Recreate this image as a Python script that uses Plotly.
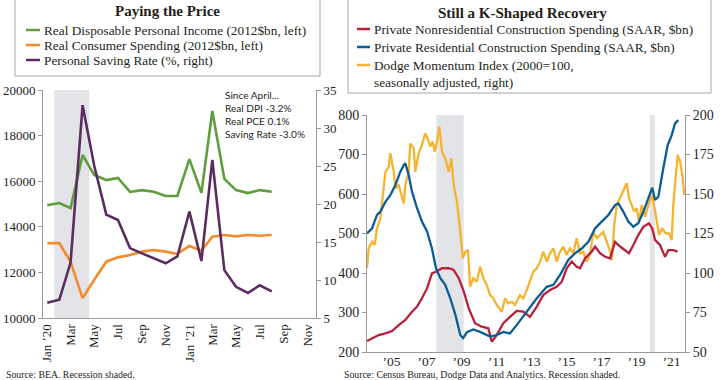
import plotly.graph_objects as go
import pandas as pd

W, H = 720, 380

# ---------------- Left panel data (monthly) ----------------
left_months = ["2020-01", "2020-02", "2020-03", "2020-04", "2020-05", "2020-06", "2020-07",
               "2020-08", "2020-09", "2020-10", "2020-11", "2020-12", "2021-01", "2021-02",
               "2021-03", "2021-04", "2021-05", "2021-06", "2021-07", "2021-08"]
real_dpi = [14950, 15040, 14820, 17150, 16270, 16050, 16140, 15530, 15610, 15540,
            15350, 15350, 16970, 15490, 19080, 16100, 15610, 15480, 15610, 15540]
real_pce = [13280, 13290, 12460, 10870, 11680, 12470, 12660, 12760, 12910, 12980,
            12910, 12810, 13160, 12950, 13570, 13640, 13580, 13640, 13610, 13640]
saving_rate = [7.0, 7.4, 12.3, 33.0, 25.0, 18.6, 17.9, 14.2, 13.5, 12.9,
               12.2, 13.1, 19.0, 12.5, 25.8, 11.3, 9.1, 8.3, 9.3, 8.5]
left_tickvals = ["2020-01-01", "2020-03-01", "2020-05-01", "2020-07-01", "2020-09-01", "2020-11-01",
                 "2021-01-01", "2021-03-01", "2021-05-01", "2021-07-01", "2021-09-01", "2021-11-01"]
left_ticktext = ["Jan \u201920", "Mar", "May", "Jul", "Sep", "Nov",
                 "Jan \u201921", "Mar", "May", "Jul", "Sep", "Nov"]
left_recession = [("2020-01-19", "2020-04-18")]
left_names = ["Real Disposable Personal Income (2012$bn, left)",
              "Real Consumer Spending (2012$bn, left)",
              "Personal Saving Rate (%, right)"]
left_note = ["Since April...", "Real DPI -3.2%", "Real PCE 0.1%", "Saving Rate -3.0%"]

# ---------------- Right panel data (decimal years) ----------------
resid_t = [2004.00, 2004.29, 2004.57, 2004.76, 2005.05, 2005.33, 2005.62, 2005.90, 2006.10, 2006.19,
           2006.38, 2006.57, 2006.86, 2007.14, 2007.43, 2007.71, 2007.94, 2008.19, 2008.47, 2008.76,
           2009.05, 2009.33, 2009.49, 2009.71, 2010.07, 2010.46, 2011.03, 2011.41, 2011.79, 2012.17,
           2012.55, 2013.13, 2013.70, 2014.27, 2014.65, 2015.03, 2015.50, 2015.89, 2016.27, 2016.65,
           2017.03, 2017.41, 2017.79, 2018.17, 2018.36, 2018.65, 2018.93, 2019.22, 2019.50, 2019.79,
           2020.07, 2020.30, 2020.46, 2020.65, 2020.93, 2021.18, 2021.41, 2021.60, 2021.79]
resid_v = [500, 513, 547, 555, 580, 597, 623, 656, 673, 678,
           648, 606, 564, 530, 505, 462, 412, 387, 370, 336,
           294, 243, 235, 250, 257, 251, 239, 243, 251, 247,
           268, 302, 336, 365, 370, 395, 433, 450, 462, 479,
           513, 530, 547, 572, 576, 555, 530, 517, 526, 555,
           589, 616, 585, 593, 665, 724, 749, 779, 787]

nonres_t = [2004.00, 2004.29, 2004.67, 2005.05, 2005.43, 2005.81, 2006.19, 2006.57, 2006.86, 2007.14,
            2007.43, 2007.71, 2007.94, 2008.29, 2008.67, 2008.95, 2009.24, 2009.53, 2009.81, 2010.17,
            2010.55, 2010.93, 2011.13, 2011.41, 2011.79, 2012.17, 2012.55, 2012.93, 2013.31, 2013.70,
            2014.07, 2014.46, 2014.84, 2015.13, 2015.41, 2015.70, 2015.98, 2016.17, 2016.46, 2016.84,
            2017.03, 2017.31, 2017.60, 2017.89, 2018.17, 2018.46, 2018.74, 2018.97, 2019.22, 2019.50,
            2019.79, 2020.11, 2020.30, 2020.46, 2020.74, 2021.03, 2021.22, 2021.50, 2021.75]
nonres_v = [228, 235, 243, 247, 253, 268, 281, 302, 315, 336,
            361, 399, 403, 412, 412, 408, 387, 353, 311, 273,
            264, 260, 226, 243, 273, 289, 304, 302, 289, 315,
            344, 357, 365, 378, 412, 429, 416, 412, 437, 454,
            467, 450, 441, 437, 479, 467, 458, 450, 471, 496,
            517, 526, 513, 484, 471, 441, 458, 458, 454]

dodge_t = [2004.00, 2004.10, 2004.29, 2004.44, 2004.57, 2004.76, 2004.95, 2005.05, 2005.24, 2005.33,
           2005.53, 2005.62, 2005.81, 2006.00, 2006.10, 2006.19, 2006.38, 2006.47, 2006.67, 2006.76,
           2006.95, 2007.14, 2007.33, 2007.49, 2007.62, 2007.75, 2007.87, 2008.00, 2008.13, 2008.29,
           2008.47, 2008.67, 2008.82, 2008.95, 2009.14, 2009.33, 2009.47, 2009.62, 2009.77, 2009.89,
           2010.07, 2010.27, 2010.46, 2010.65, 2010.84, 2011.03, 2011.22, 2011.41, 2011.70, 2011.89,
           2012.07, 2012.27, 2012.46, 2012.74, 2012.93, 2013.13, 2013.31, 2013.50, 2013.70, 2013.89,
           2014.07, 2014.27, 2014.46, 2014.65, 2014.84, 2015.03, 2015.22, 2015.41, 2015.60, 2015.79,
           2015.98, 2016.17, 2016.36, 2016.55, 2016.74, 2016.93, 2017.13, 2017.31, 2017.50, 2017.70,
           2017.89, 2017.98, 2018.13, 2018.27, 2018.46, 2018.65, 2018.84, 2018.97, 2019.13, 2019.27,
           2019.41, 2019.54, 2019.70, 2019.89, 2020.11, 2020.30, 2020.50, 2020.69, 2020.87, 2021.07,
           2021.26, 2021.41, 2021.50, 2021.64, 2021.75, 2021.89, 2022.02, 2022.13]
dodge_v = [103, 115.6, 119.8, 117.7, 128, 134.6, 153.6, 164, 167.3, 175.8,
           164, 153.6, 155.7, 147.3, 144, 155.7, 164, 182, 179, 164,
           175.8, 181, 188.4, 184.2, 180, 183, 176.8, 183, 192.6, 176.8,
           172.6, 164, 172.6, 155.7, 145, 126, 109.3, 113.5, 114.6, 91.3,
           96.6, 94.5, 104, 96.6, 92.4, 86, 84, 79.8, 75.5, 84,
           80.8, 81.8, 79.8, 86, 84, 89.2, 94.5, 100.8, 103, 107.2,
           113.5, 107.2, 112.5, 115.6, 107.2, 113.5, 116.6, 111.4, 115.6, 112.5,
           122, 112.5, 113.5, 107.2, 111.4, 126, 122, 124, 126, 119.8,
           113.5, 108.2, 130.4, 143, 147.3, 151.5, 156.8, 147.3, 143, 138.8,
           141, 132.5, 143, 135.6, 144, 149.4, 136.7, 124, 128.3, 125.1,
           125.1, 120.9, 143, 162, 174.7, 170.5, 162, 149.4]

right_tick_years = [2005, 2007, 2009, 2011, 2013, 2015, 2017, 2019, 2021]
right_ticktext = ["\u201905", "\u201907", "\u201909", "\u201911", "\u201913",
                  "\u201915", "\u201917", "\u201919", "\u201921"]
right_recession = [(2007.96, 2009.52), (2020.16, 2020.45)]
right_names = ["Private Nonresidential Construction Spending (SAAR, $bn)",
               "Private Residential Construction Spending (SAAR, $bn)",
               "Dodge Momentum Index (2000=100,<br>seasonally adjusted, right)"]


def dy(t):
    y = int(t)
    return pd.Timestamp(year=y, month=1, day=1) + pd.Timedelta(days=(t - y) * 365.25)


def px(x):
    return x / W


def py(y):
    return 1 - y / H


SERIF = "Liberation Serif, Times New Roman, serif"
SANS = "Lato, Noto Sans, sans-serif"
TXT = "#231f20"
AXC = "#9a9a9a"
GREEN, ORANGE, PURPLE = "#5e9e3e", "#f38b2b", "#5b2c5f"
RED, BLUE, YELLOW = "#b7213d", "#0b5c95", "#f6b330"
SHADE = "#e3e4e7"
LEG_SIZE = 13.3

fig = go.Figure()

# left traces
fig.add_trace(go.Scatter(x=left_months, y=real_dpi, mode="lines", name=left_names[0],
                         line=dict(color=GREEN, width=2.6), xaxis="x", yaxis="y"))
fig.add_trace(go.Scatter(x=left_months, y=real_pce, mode="lines", name=left_names[1],
                         line=dict(color=ORANGE, width=2.6), xaxis="x", yaxis="y"))
fig.add_trace(go.Scatter(x=left_months, y=saving_rate, mode="lines", name=left_names[2],
                         line=dict(color=PURPLE, width=2.6), xaxis="x", yaxis="y2"))

# right traces (Dodge on base axis so it sits under the construction lines)
fig.add_trace(go.Scatter(x=[dy(t) for t in dodge_t], y=dodge_v, mode="lines", name=right_names[2],
                         line=dict(color=YELLOW, width=2.3), xaxis="x2", yaxis="y3"))
fig.add_trace(go.Scatter(x=[dy(t) for t in nonres_t], y=nonres_v, mode="lines", name=right_names[0],
                         line=dict(color=RED, width=2.3), xaxis="x2", yaxis="y4"))
fig.add_trace(go.Scatter(x=[dy(t) for t in resid_t], y=resid_v, mode="lines", name=right_names[1],
                         line=dict(color=BLUE, width=2.3), xaxis="x2", yaxis="y4"))

tickfont = dict(family=SERIF, size=13, color=TXT)
tickfont_r = dict(family=SERIF, size=14, color=TXT)
tickfont_rx = dict(family=SERIF, size=13.5, color=TXT)
axis_common = dict(showgrid=False, zeroline=False, showline=True, linecolor=AXC, linewidth=1,
                   automargin=False)

fig.update_layout(
    template="none",
    width=W, height=H, margin=dict(l=0, r=0, t=0, b=0, pad=0),
    paper_bgcolor="white", plot_bgcolor="white", showlegend=False,
    font=dict(family=SERIF, color=TXT),
    xaxis=dict(domain=[px(43), px(316)], type="date", range=["2019-12-21", "2021-11-23"],
               tickvals=left_tickvals, ticktext=left_ticktext, tickangle=-90, ticks="",
               tickfont=tickfont, anchor="y", **axis_common),
    yaxis=dict(domain=[py(318), py(90)], range=[10000, 20000], dtick=2000, tickformat="d",
               ticks="outside", ticklen=4, tickcolor=AXC, tickfont=tickfont, anchor="x",
               **axis_common),
    yaxis2=dict(overlaying="y", side="right", range=[5, 35], dtick=5, ticks="outside",
                ticklen=4, tickcolor=AXC, tickfont=tickfont, anchor="x", **axis_common),
    xaxis2=dict(domain=[px(367), px(685)], type="date", range=[dy(2004.0), dy(2022.17)],
                tickvals=[dy(y + 0.4) for y in right_tick_years], ticktext=right_ticktext,
                ticks="", tickfont=tickfont_rx, ticklabelstandoff=-3, anchor="y3", **axis_common),
    yaxis3=dict(domain=[py(352), py(115)], side="right", range=[50, 200], dtick=25,
                ticks="outside", ticklen=4, tickcolor=AXC, tickfont=tickfont_r, anchor="x2",
                **axis_common),
    yaxis4=dict(overlaying="y3", side="left", range=[200, 800], dtick=100, ticks="outside",
                ticklen=4, tickcolor=AXC, tickfont=tickfont_r, anchor="x2", **axis_common),
)

shapes = []
for a, b in left_recession:
    shapes.append(dict(type="rect", xref="x", yref="y domain", x0=a, x1=b, y0=0, y1=1,
                       fillcolor=SHADE, line=dict(width=0), layer="below"))
for a, b in right_recession:
    shapes.append(dict(type="rect", xref="x2", yref="y3 domain", x0=dy(a), x1=dy(b), y0=0, y1=1,
                       fillcolor=SHADE, line=dict(width=0), layer="below"))

# legend boxes
shapes.append(dict(type="rect", xref="paper", yref="paper", x0=px(15), x1=px(320),
                   y0=py(76), y1=py(-2), line=dict(color="#a5a5a5", width=1), fillcolor="rgba(0,0,0,0)"))
shapes.append(dict(type="rect", xref="paper", yref="paper", x0=px(348), x1=px(711),
                   y0=py(93), y1=py(-2), line=dict(color="#a5a5a5", width=1), fillcolor="rgba(0,0,0,0)"))

annotations = []
# left legend
annotations.append(dict(text="<b>Paying the Price</b>", x=px(167.5), y=py(11), xref="paper", yref="paper",
                        xanchor="center", yanchor="middle", showarrow=False,
                        font=dict(family=SERIF, size=15, color=TXT)))
for name, col, yy in zip(left_names, [GREEN, ORANGE, PURPLE], [30, 45, 60]):
    shapes.append(dict(type="line", xref="paper", yref="paper", x0=px(26), x1=px(40),
                       y0=py(yy), y1=py(yy), line=dict(color=col, width=2.5)))
    annotations.append(dict(text=name, x=px(42), y=py(yy), xref="paper", yref="paper",
                            xanchor="left", yanchor="middle", showarrow=False,
                            font=dict(family=SERIF, size=LEG_SIZE, color=TXT)))

# right legend
annotations.append(dict(text="<b>Still a K-Shaped Recovery</b>", x=px(522), y=py(13), xref="paper",
                        yref="paper", xanchor="center", yanchor="middle", showarrow=False,
                        font=dict(family=SERIF, size=15, color=TXT)))
for name, col, yy in zip(right_names, [RED, BLUE, YELLOW], [29, 47, 65]):
    shapes.append(dict(type="line", xref="paper", yref="paper", x0=px(357), x1=px(370),
                       y0=py(yy), y1=py(yy), line=dict(color=col, width=2.5)))
    annotations.append(dict(text=name, x=px(372), y=py(yy - 9), xref="paper", yref="paper",
                            xanchor="left", yanchor="top", align="left", showarrow=False,
                            font=dict(family=SERIF, size=LEG_SIZE, color=TXT)))

# note in left chart
annotations.append(dict(text="<br>".join(left_note), x=px(223), y=py(87), xref="paper", yref="paper",
                        xanchor="left", yanchor="top", align="left", showarrow=False,
                        font=dict(family=SANS, size=10.1, color=TXT)))

# sources
annotations.append(dict(text="Source: BEA. Recession shaded.", x=px(4), y=py(374), xref="paper",
                        yref="paper", xanchor="left", yanchor="middle", showarrow=False,
                        font=dict(family=SERIF, size=9.8, color=TXT)))
annotations.append(dict(text="Source: Census Bureau, Dodge Data and Analytics. Recession shaded.",
                        x=px(342), y=py(374), xref="paper", yref="paper", xanchor="left",
                        yanchor="middle", showarrow=False, font=dict(family=SERIF, size=9.8, color=TXT)))

fig.update_layout(shapes=shapes, annotations=annotations)

# remove the default page margin so the 720x380 figure fills the window exactly
fig.write_html("out.html", config={"displayModeBar": False},
               post_script="document.body.style.margin='0';document.body.style.overflow='hidden';")
